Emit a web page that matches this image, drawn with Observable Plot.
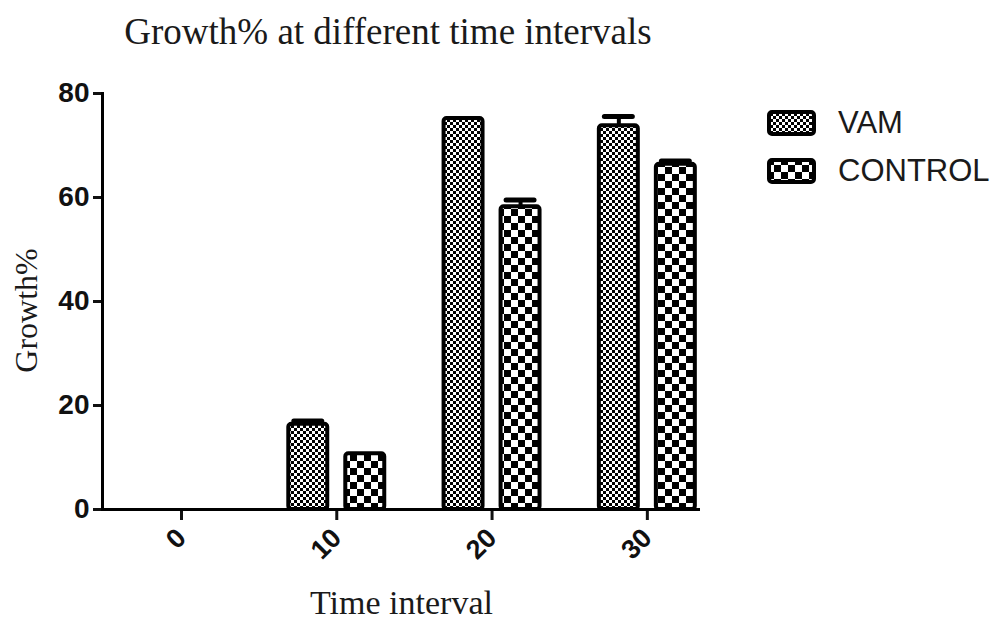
<!DOCTYPE html>
<html>
<head>
<meta charset="utf-8">
<script src="https://cdn.jsdelivr.net/npm/d3@7"></script>
<script src="https://cdn.jsdelivr.net/npm/@observablehq/plot@0.6"></script>
<style>
  html, body { margin: 0; padding: 0; background: #fff; }
  #wrap { position: relative; width: 999px; height: 621px; overflow: hidden; }
  #title { height: 62px; width: 776px; text-align: center; font-family: "Liberation Serif", "Times New Roman", serif;
           font-size: 37px; line-height: 64px; color: #1a1a1a; }
  #legend { position: absolute; left: 767px; top: 110px; font-family: "Liberation Sans", Arial, sans-serif;
            font-size: 31px; color: #1a1a1a; }
  .row { display: flex; align-items: center; height: 26px; margin-bottom: 22px; }
  .row svg { margin-right: 22px; }
  #chart svg [aria-label="y-axis tick label"] text,
  #chart svg [aria-label="x-axis tick label"] text { font-weight: bold; }
</style>
</head>
<body>
<svg width="0" height="0" style="position:absolute">
  <defs>
    <pattern id="vamPat" patternUnits="userSpaceOnUse" width="6" height="6">
      <rect width="6" height="6" fill="#fff"/>
      <rect x="0" y="0" width="3" height="3" fill="#000"/>
      <rect x="3" y="3" width="3" height="3" fill="#000"/>
    </pattern>
    <pattern id="ctlPat" patternUnits="userSpaceOnUse" width="14" height="14">
      <rect width="14" height="14" fill="#fff"/>
      <rect x="0" y="0" width="7" height="7" fill="#000"/>
      <rect x="7" y="7" width="7" height="7" fill="#000"/>
    </pattern>
  </defs>
</svg>
<div id="wrap">
  <div id="title">Growth% at different time intervals</div>
  <div id="chart"></div>
  <div id="legend"></div>
</div>
<script>
// ---- data ----
const times = ["0", "10", "20", "30"];
const seriesNames = ["VAM", "CONTROL"];
const vamValues = [0, 16.4, 75.2, 73.8];
const vamErrors = [0, 0.6, 0, 1.8];
const controlValues = [0, 10.7, 58.2, 66.4];
const controlErrors = [0, 0, 1.3, 0.6];
const yTicks = [0, 20, 40, 60, 80];
const patterns = {VAM: "url(#vamPat)", CONTROL: "url(#ctlPat)"};

const vam = times.map((t, i) => ({time: t, value: vamValues[i], err: vamErrors[i]}));
const control = times.map((t, i) => ({time: t, value: controlValues[i], err: controlErrors[i]}));

const barStyle = {stroke: "#000", strokeWidth: 4, rx: 3};
const vamInset = {insetLeft: 0, insetRight: 57};
const ctlInset = {insetLeft: 57, insetRight: 0};
const serif = "'Liberation Serif', 'Times New Roman', serif";

const chart = Plot.plot({
  width: 999,
  height: 559,
  marginLeft: 102,
  marginRight: 299,
  marginTop: 31,
  marginBottom: 112,
  style: {fontFamily: "'Liberation Sans', Arial, sans-serif", color: "#111", background: "#fff", overflow: "visible"},
  x: {domain: times, paddingInner: 0.382, paddingOuter: 0.1165, align: 0.857, round: false, label: null},
  y: {domain: [0, 80], label: null},
  marks: [
    // error bar stems (drawn beneath bars)
    Plot.ruleX(vam.filter(d => d.err > 0), {x: "time", y1: "value", y2: d => d.value + d.err, dx: -28.5, stroke: "#000", strokeWidth: 4}),
    Plot.ruleX(control.filter(d => d.err > 0), {x: "time", y1: "value", y2: d => d.value + d.err, dx: 28.5, stroke: "#000", strokeWidth: 4}),
    // bars
    Plot.barY(vam.filter(d => d.value > 0), {x: "time", y: "value", fill: patterns.VAM, ...barStyle, ...vamInset}),
    Plot.barY(control.filter(d => d.value > 0), {x: "time", y: "value", fill: patterns.CONTROL, ...barStyle, ...ctlInset}),
    // error caps
    Plot.tickY(vam.filter(d => d.err > 0), {x: "time", y: d => d.value + d.err, insetLeft: 5.5, insetRight: 62.5, stroke: "#000", strokeWidth: 5, strokeLinecap: "round"}),
    Plot.tickY(control.filter(d => d.err > 0), {x: "time", y: d => d.value + d.err, insetLeft: 62.5, insetRight: 5.5, stroke: "#000", strokeWidth: 5, strokeLinecap: "round"}),
    // axes
    Plot.axisY(yTicks, {tickSize: 9, tickPadding: 4, strokeWidth: 3, fontSize: 28, label: null}),
    Plot.axisX({tickSize: 11, tickPadding: 13, strokeWidth: 3, tickRotate: -45, fontSize: 27, label: null}),
    Plot.frame({anchor: "left", stroke: "#000", strokeWidth: 3}),
    Plot.ruleY([0], {stroke: "#000", strokeWidth: 3}),
    // axis titles
    Plot.text(["Growth%"], {frameAnchor: "left", dx: -76, dy: 9, rotate: -90, textAnchor: "middle", fontFamily: serif, fontSize: 32, fill: "#1a1a1a"}),
    Plot.text(["Time interval"], {frameAnchor: "bottom", dy: 104, textAnchor: "middle", fontFamily: serif, fontSize: 34, fill: "#1a1a1a"})
  ]
});
document.getElementById("chart").appendChild(chart);

// legend
const legend = d3.select("#legend");
seriesNames.forEach(name => {
  const row = legend.append("div").attr("class", "row");
  const sw = row.append("svg").attr("width", 49).attr("height", 26);
  sw.append("rect").attr("x", 2).attr("y", 2).attr("width", 45).attr("height", 22).attr("rx", 3)
    .attr("fill", patterns[name]).attr("stroke", "#000").attr("stroke-width", 4);
  row.append("span").text(name);
});
</script>
</body>
</html>
